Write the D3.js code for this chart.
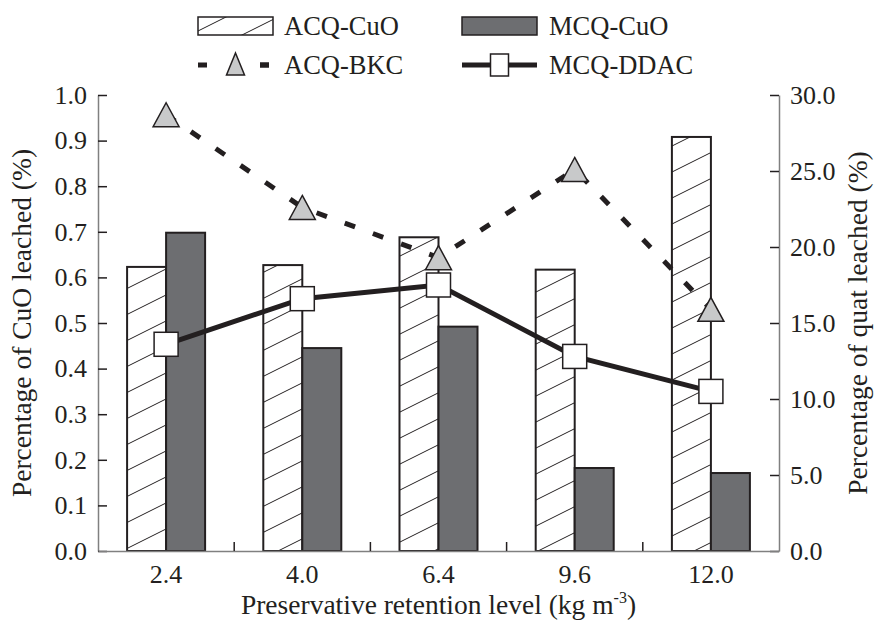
<!DOCTYPE html>
<html>
<head>
<meta charset="utf-8">
<script src="https://cdn.jsdelivr.net/npm/d3@7"></script>
<style>
  body { margin: 0; background: #fff; }
  svg text { font-family: "Liberation Serif", "Times New Roman", Times, "DejaVu Serif", serif; fill: #231f20; }
</style>
</head>
<body>
<div id="chart"></div>
<script>
// data
const levels = ["2.4", "4.0", "6.4", "9.6", "12.0"];
const acqCuO = [0.623, 0.627, 0.688, 0.617, 0.908];
const mcqCuO = [0.698, 0.445, 0.492, 0.182, 0.171];
const acqBKC = [28.7, 22.6, 19.3, 25.1, 15.9];
const mcqDDAC = [13.6, 16.6, 17.5, 12.8, 10.5];
const leftTicks = [0, 0.1, 0.2, 0.3, 0.4, 0.5, 0.6, 0.7, 0.8, 0.9, 1.0];
const rightTicks = [0, 5, 10, 15, 20, 25, 30];

const W = 877, H = 625;
const margin = {top: 95, right: 98, bottom: 74, left: 98},
    width = W - margin.left - margin.right,
    height = H - margin.top - margin.bottom;

const dark = "#231f20", axisGrey = "#808080";
const serif = "'Liberation Serif', 'Times New Roman', Times, 'DejaVu Serif', serif";
const tickSize = 26, titleSize = 27.5, legSize = 26.5;

let svg = d3.select("#chart").append("svg")
    .attr("width", W)
    .attr("height", H)
    .style("font-family", serif);

// hatch pattern for the ACQ-CuO bars
let defs = svg.append("defs");
let pat = defs.append("pattern")
    .attr("id", "hatch")
    .attr("patternUnits", "userSpaceOnUse")
    .attr("width", 52).attr("height", 26);
pat.append("rect").attr("width", 52).attr("height", 26).attr("fill", "#fff");
pat.append("path")
    .attr("d", "M-2,27 L54,-1 M-54,27 L2,-1 M50,27 L106,-1")
    .attr("stroke", dark).attr("stroke-width", 1);

let g = svg.append("g")
    .attr("transform", "translate(" + margin.left + "," + margin.top + ")");

// scales
let x = d3.scaleBand().domain(levels).range([0, width]);
let xSub = d3.scaleBand().domain(["acq", "mcq"])
    .range([0, x.bandwidth()])
    .paddingOuter(0.746);
let yL = d3.scaleLinear().domain([0, 1]).range([height, 0]);
let yR = d3.scaleLinear().domain([0, 30]).range([height, 0]);

// bars
g.selectAll(".bar-acq").data(acqCuO).enter().append("rect")
    .attr("x", (d, i) => x(levels[i]) + xSub("acq"))
    .attr("y", d => yL(d))
    .attr("width", xSub.bandwidth())
    .attr("height", d => height - yL(d))
    .attr("fill", "url(#hatch)")
    .attr("stroke", dark).attr("stroke-width", 2);

g.selectAll(".bar-mcq").data(mcqCuO).enter().append("rect")
    .attr("x", (d, i) => x(levels[i]) + xSub("mcq"))
    .attr("y", d => yL(d))
    .attr("width", xSub.bandwidth())
    .attr("height", d => height - yL(d))
    .attr("fill", "#6d6e71")
    .attr("stroke", dark).attr("stroke-width", 2);

// axes
let fmt = d3.format(".1f");
let leftAxis = g.append("g")
    .call(d3.axisLeft(yL).tickValues(leftTicks).tickFormat(fmt).tickSizeInner(-9).tickSizeOuter(0).tickPadding(11));
let rightAxis = g.append("g")
    .attr("transform", "translate(" + width + ",0)")
    .call(d3.axisRight(yR).tickValues(rightTicks).tickFormat(fmt).tickSizeInner(-9).tickSizeOuter(0).tickPadding(11));
let bottomAxis = g.append("g")
    .attr("transform", "translate(0," + height + ")")
    .call(d3.axisBottom(x).tickSize(0).tickPadding(14));

[leftAxis, rightAxis, bottomAxis].forEach(a => {
    a.attr("font-family", null);
    a.select(".domain").attr("stroke", axisGrey).attr("stroke-width", 1.5);
    a.selectAll(".tick line").attr("stroke", dark).attr("stroke-width", 1.5);
    a.selectAll(".tick text")
        .style("font-family", serif)
        .attr("font-size", tickSize).attr("fill", dark);
});

// category separator ticks on the bottom axis (pointing inward)
g.selectAll(".sep").data(levels.slice(1)).enter().append("line")
    .attr("x1", d => x(d)).attr("x2", d => x(d))
    .attr("y1", height).attr("y2", height - 9)
    .attr("stroke", dark).attr("stroke-width", 1.5);

// lines
let line = d3.line()
    .x((d, i) => x(levels[i]) + x.bandwidth() / 2)
    .y(d => yR(d));

g.append("path").datum(acqBKC)
    .attr("d", line)
    .attr("fill", "none").attr("stroke", dark)
    .attr("stroke-width", 5).attr("stroke-dasharray", "11,19");

g.append("path").datum(mcqDDAC)
    .attr("d", line)
    .attr("fill", "none").attr("stroke", dark)
    .attr("stroke-width", 5);

// markers
const tri = "M0,-12 L13,12 L-13,12 Z";
g.selectAll(".tri").data(acqBKC).enter().append("path")
    .attr("transform", (d, i) => "translate(" + (x(levels[i]) + x.bandwidth() / 2) + "," + yR(d) + ")")
    .attr("d", tri)
    .attr("fill", "#c8c9ca").attr("stroke", dark).attr("stroke-width", 1.5);

g.selectAll(".sq").data(mcqDDAC).enter().append("rect")
    .attr("x", (d, i) => x(levels[i]) + x.bandwidth() / 2 - 12)
    .attr("y", d => yR(d) - 12)
    .attr("width", 24).attr("height", 24)
    .attr("fill", "#fff").attr("stroke", dark).attr("stroke-width", 1.5);

// axis titles
svg.append("text")
    .attr("transform", "translate(31," + (margin.top + height / 2) + ") rotate(-90)")
    .attr("text-anchor", "middle")
    .attr("font-size", titleSize)
    .text("Percentage of CuO leached (%)");

svg.append("text")
    .attr("transform", "translate(" + (W - 10) + "," + (margin.top + height / 2) + ") rotate(-90)")
    .attr("text-anchor", "middle")
    .attr("font-size", titleSize)
    .text("Percentage of quat leached (%)");

let xt = svg.append("text")
    .attr("x", margin.left + width / 2)
    .attr("y", 614)
    .attr("text-anchor", "middle")
    .attr("font-size", titleSize);
xt.append("tspan").text("Preservative retention level (kg m");
xt.append("tspan").attr("font-size", 16).attr("dy", -11).text("-3");
xt.append("tspan").attr("dy", 11).text(")");

// legend
let leg = svg.append("g");
let c1 = 198, c2 = 462, boxW = 75;

leg.append("rect").attr("x", c1).attr("y", 17).attr("width", boxW).attr("height", 18)
    .attr("fill", "url(#hatch)").attr("stroke", dark).attr("stroke-width", 1.5);
leg.append("text").attr("x", c1 + 86).attr("y", 35).attr("font-size", legSize).text("ACQ-CuO");

leg.append("rect").attr("x", c2).attr("y", 17).attr("width", boxW).attr("height", 18)
    .attr("fill", "#6d6e71").attr("stroke", dark).attr("stroke-width", 1.5);
leg.append("text").attr("x", c2 + 87).attr("y", 35).attr("font-size", legSize).text("MCQ-CuO");

leg.append("line").attr("x1", c1).attr("x2", c1 + boxW).attr("y1", 65).attr("y2", 65)
    .attr("stroke", dark).attr("stroke-width", 5).attr("stroke-dasharray", "9,53");
leg.append("line").attr("x1", c1 + 62).attr("x2", c1 + boxW).attr("y1", 65).attr("y2", 65)
    .attr("stroke", dark).attr("stroke-width", 5).attr("stroke-dasharray", "9,53");
leg.append("path").attr("transform", "translate(" + (c1 + boxW / 2) + ",64)")
    .attr("d", "M0,-11 L9,11 L-9,11 Z")
    .attr("fill", "#c8c9ca").attr("stroke", dark).attr("stroke-width", 1.5);
leg.append("text").attr("x", c1 + 86).attr("y", 74).attr("font-size", legSize).text("ACQ-BKC");

leg.append("line").attr("x1", c2).attr("x2", c2 + boxW).attr("y1", 65).attr("y2", 65)
    .attr("stroke", dark).attr("stroke-width", 5);
leg.append("rect").attr("x", c2 + boxW / 2 - 9).attr("y", 54).attr("width", 18).attr("height", 22)
    .attr("fill", "#fff").attr("stroke", dark).attr("stroke-width", 1.5);
leg.append("text").attr("x", c2 + 87).attr("y", 74).attr("font-size", legSize).text("MCQ-DDAC");
</script>
</body>
</html>
